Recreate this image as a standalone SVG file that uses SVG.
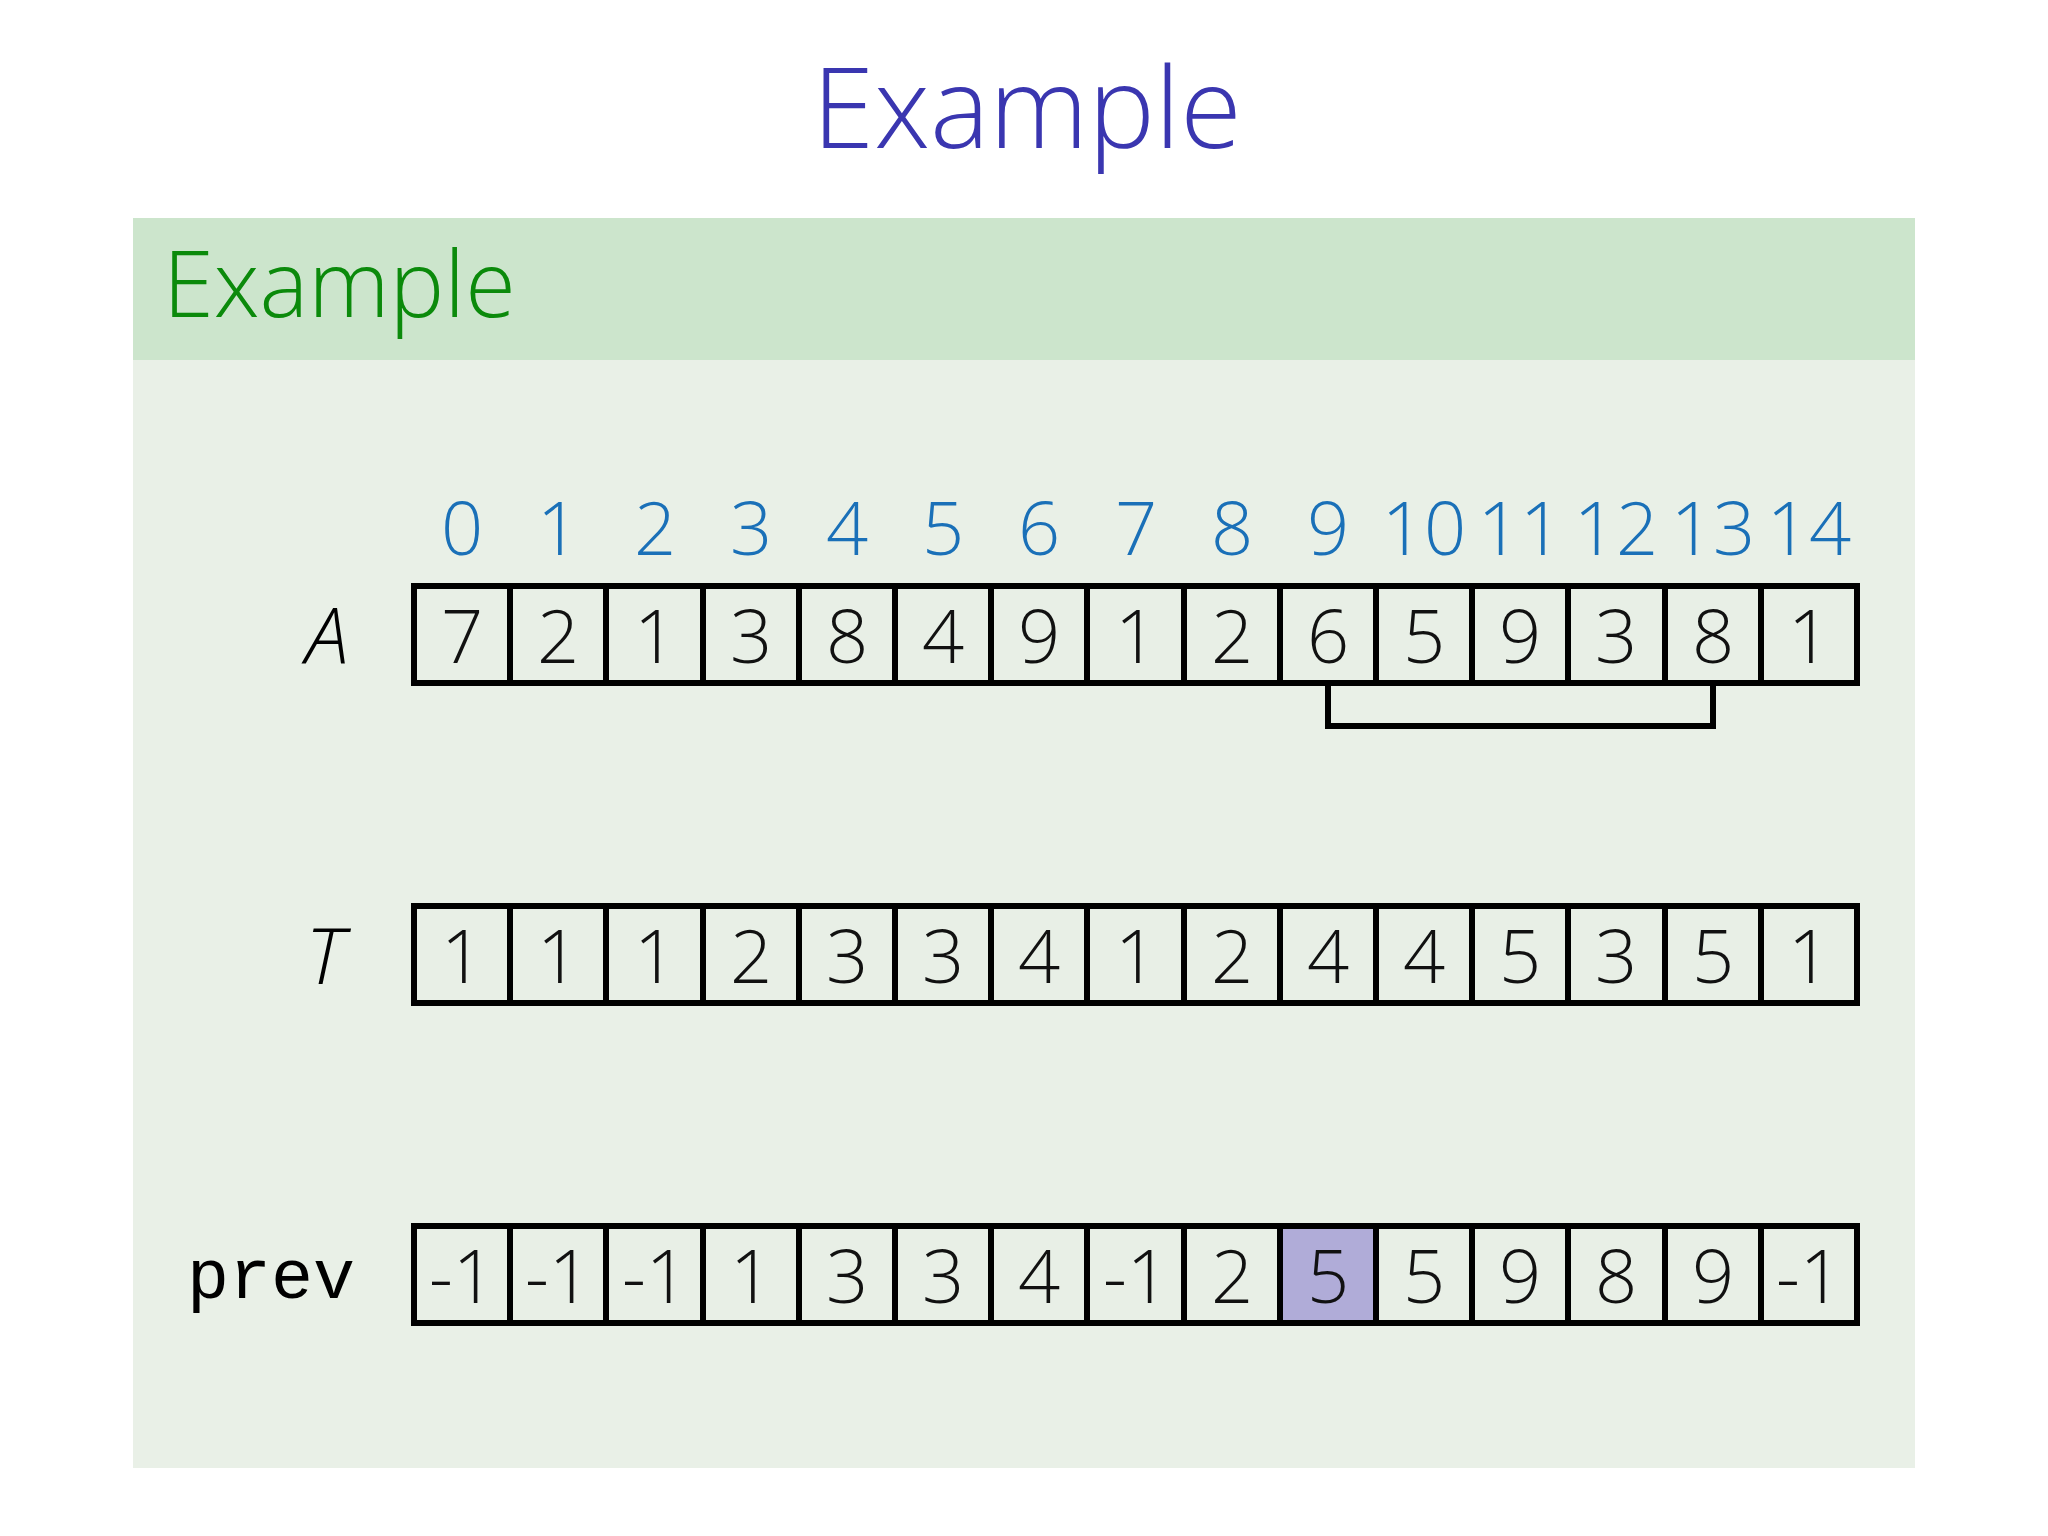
<svg xmlns="http://www.w3.org/2000/svg" width="2048" height="1536" viewBox="0 0 2048 1536">
<style>
.t{font-family:"Open Sans","DejaVu Sans",sans-serif;font-weight:300}
.idx{font-family:"Open Sans",sans-serif;font-weight:300;font-size:74px;fill:#1a70b8;text-anchor:middle}
.v{font-family:"Open Sans",sans-serif;font-weight:300;font-size:74px;fill:#111;text-anchor:middle}
.cell{fill:#e8efe6;stroke:#000;stroke-width:6}
</style>
<rect width="2048" height="1536" fill="#fff"/>
<text class="t" x="1027" y="148" font-size="112" fill="#3a36b0" text-anchor="middle">Example</text>
<rect x="133" y="218" width="1782" height="1250" fill="#e9f0e7"/>
<rect x="133" y="218" width="1782" height="142" fill="#cce5cc"/>
<text class="t" x="163" y="317" font-size="92" fill="#0b8a0b">Example</text>
<g id="indices">
<text class="idx" x="462" y="555">0</text><text class="idx" x="558" y="555">1</text><text class="idx" x="655" y="555">2</text><text class="idx" x="751" y="555">3</text><text class="idx" x="847" y="555">4</text><text class="idx" x="943" y="555">5</text><text class="idx" x="1039" y="555">6</text><text class="idx" x="1136" y="555">7</text><text class="idx" x="1232" y="555">8</text><text class="idx" x="1328" y="555">9</text><text class="idx" x="1424" y="555">10</text><text class="idx" x="1520" y="555">11</text><text class="idx" x="1616" y="555">12</text><text class="idx" x="1713" y="555">13</text><text class="idx" x="1809" y="555">14</text>
</g>
<g id="labels">
<text x="327" y="664" font-family="'Open Sans',sans-serif" font-style="italic" font-weight="300" font-size="78" text-anchor="middle">A</text>
<text x="325" y="984" font-family="'Open Sans',sans-serif" font-style="italic" font-weight="300" font-size="78" text-anchor="middle">T</text>
<text x="271" y="1298" font-family="'Liberation Mono',monospace" font-size="70" text-anchor="middle">prev</text>
</g>
<g id="rowA">
<rect class="cell" x="414" y="586" width="1443" height="97"/>
<g stroke="#000" stroke-width="6"><path d="M510 586V683M606 586V683M703 586V683M799 586V683M895 586V683M991 586V683M1087 586V683M1184 586V683M1280 586V683M1376 586V683M1472 586V683M1568 586V683M1665 586V683M1761 586V683"/></g>
<text class="v" x="462" y="663">7</text><text class="v" x="558" y="663">2</text><text class="v" x="655" y="663">1</text><text class="v" x="751" y="663">3</text><text class="v" x="847" y="663">8</text><text class="v" x="943" y="663">4</text><text class="v" x="1039" y="663">9</text><text class="v" x="1136" y="663">1</text><text class="v" x="1232" y="663">2</text><text class="v" x="1328" y="663">6</text><text class="v" x="1424" y="663">5</text><text class="v" x="1520" y="663">9</text><text class="v" x="1616" y="663">3</text><text class="v" x="1713" y="663">8</text><text class="v" x="1809" y="663">1</text>
</g>
<g id="connectors"><path d="M1328 683V726H1713V683" fill="none" stroke="#000" stroke-width="6"/></g>
<g id="rowT">
<rect class="cell" x="414" y="906" width="1443" height="97"/>
<g stroke="#000" stroke-width="6"><path d="M510 906V1003M606 906V1003M703 906V1003M799 906V1003M895 906V1003M991 906V1003M1087 906V1003M1184 906V1003M1280 906V1003M1376 906V1003M1472 906V1003M1568 906V1003M1665 906V1003M1761 906V1003"/></g>
<text class="v" x="462" y="983">1</text><text class="v" x="558" y="983">1</text><text class="v" x="655" y="983">1</text><text class="v" x="751" y="983">2</text><text class="v" x="847" y="983">3</text><text class="v" x="943" y="983">3</text><text class="v" x="1039" y="983">4</text><text class="v" x="1136" y="983">1</text><text class="v" x="1232" y="983">2</text><text class="v" x="1328" y="983">4</text><text class="v" x="1424" y="983">4</text><text class="v" x="1520" y="983">5</text><text class="v" x="1616" y="983">3</text><text class="v" x="1713" y="983">5</text><text class="v" x="1809" y="983">1</text>
</g>
<g id="rowPrev">
<rect class="cell" x="414" y="1226" width="1443" height="97"/>
<rect x="1280" y="1226" width="96" height="97" fill="#b0acd8"/>
<rect x="414" y="1226" width="1443" height="97" fill="none" stroke="#000" stroke-width="6"/>
<g stroke="#000" stroke-width="6"><path d="M510 1226V1323M606 1226V1323M703 1226V1323M799 1226V1323M895 1226V1323M991 1226V1323M1087 1226V1323M1184 1226V1323M1280 1226V1323M1376 1226V1323M1472 1226V1323M1568 1226V1323M1665 1226V1323M1761 1226V1323"/></g>
<text class="v" x="462" y="1303">-1</text><text class="v" x="558" y="1303">-1</text><text class="v" x="655" y="1303">-1</text><text class="v" x="751" y="1303">1</text><text class="v" x="847" y="1303">3</text><text class="v" x="943" y="1303">3</text><text class="v" x="1039" y="1303">4</text><text class="v" x="1136" y="1303">-1</text><text class="v" x="1232" y="1303">2</text><text class="v" x="1328" y="1303">5</text><text class="v" x="1424" y="1303">5</text><text class="v" x="1520" y="1303">9</text><text class="v" x="1616" y="1303">8</text><text class="v" x="1713" y="1303">9</text><text class="v" x="1809" y="1303">-1</text>
</g>
</svg>
